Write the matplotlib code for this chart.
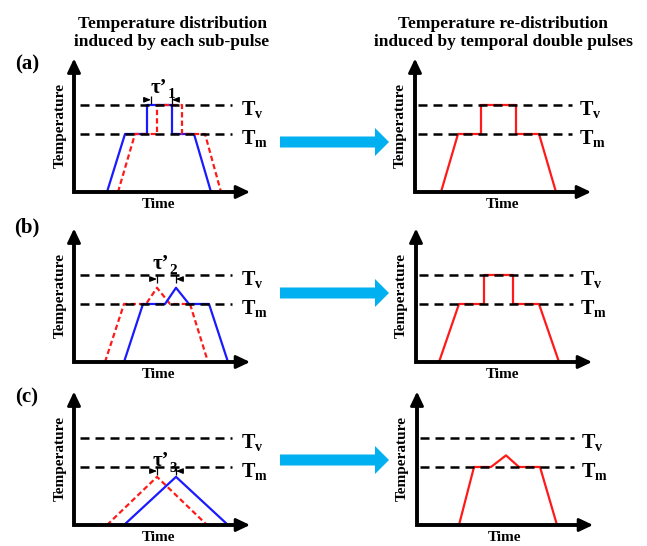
import matplotlib
matplotlib.use("Agg")
import matplotlib.pyplot as plt

plt.rcParams['font.family'] = ['Liberation Serif', 'DejaVu Serif']
plt.rcParams['mathtext.fontset'] = 'custom'
plt.rcParams['mathtext.rm'] = 'Liberation Serif:bold'
plt.rcParams['mathtext.it'] = 'Liberation Serif:italic:bold'
plt.rcParams['mathtext.bf'] = 'Liberation Serif:bold'

# ---------------- data (time in arbitrary units, temperature with Tm = 1) ----------------
TM = 1.0
TV = 1.5

# (a) sub-pulses and re-distribution
a_blue_t = [3.3, 5.1, 7.3, 7.3, 9.8, 9.8, 12.0, 13.7]
a_red_t = [4.4, 6.1, 8.3, 8.3, 10.8, 10.8, 13.1, 14.7]
a_sub_T = [0, TM, TM, TV, TV, TM, TM, 0]
a_res_t = [2.6, 4.3, 6.6, 6.6, 10.1, 10.1, 12.4, 14.1]
a_res_T = [0, TM, TM, TV, TV, TM, TM, 0]

# (b)
b_red_t = [3.1, 5.0, 7.2, 8.3, 9.6, 11.6, 13.4]
b_blue_t = [5.0, 6.9, 9.1, 10.2, 11.5, 13.5, 15.4]
b_sub_T = [0, TM, TM, 1.28, TM, TM, 0]
b_res_t = [2.3, 4.3, 6.8, 6.8, 9.7, 9.7, 12.3, 14.3]
b_res_T = [0, TM, TM, TV, TV, TM, TM, 0]

# (c)
c_red_t = [3.3, 8.3, 13.3]
c_blue_t = [5.0, 10.2, 15.4]
c_sub_T = [0, 0.83, 0]
c_res_t = [4.2, 5.7, 7.4, 8.9, 10.2, 12.3, 14.0]
c_res_T = [0, TM, TM, 1.2, TM, TM, 0]

# tau' markers: (left bar, right bar, height)
tau_marks = {'1': (7.7, 9.8, 1.59), '2': (8.3, 10.2, 1.43), '3': (8.3, 10.2, 0.93)}
tau_label_pos = {'1': (8.5, 1.80), '2': (8.7, 1.69), '3': (8.7, 1.10)}

titles = ["Temperature distribution\ninduced by each sub-pulse",
          "Temperature re-distribution\ninduced by temporal double pulses"]
panel_letters = ["(a)", "(b)", "(c)"]

# ---------------- layout ----------------
W, H = 647, 546
SX, SY = 10.0, 58.0
XMAX, YMAX = 17.6, 2.3
BLUE = '#1a1aff'
RED = '#ff1a1a'
ARROW_BLUE = '#00B0F0'

fig = plt.figure(figsize=(W / 100, H / 100), dpi=100)

head = dict(arrowstyle='-|>,head_length=0.42,head_width=0.2', lw=2.0, color='k',
            mutation_scale=20, shrinkA=0, shrinkB=0)


def make_axes(ox, oy):
    ax = fig.add_axes([ox / W, (H - oy) / H, (XMAX + 0.5) * SX / W, (YMAX + 0.2) * SY / H])
    ax.set_xlim(0, XMAX + 0.5)
    ax.set_ylim(0, YMAX + 0.2)
    ax.axis('off')
    # L-shaped axes
    ax.plot([0, 0, XMAX - 0.8], [YMAX - 0.14, 0, 0], color='k', lw=2.8,
            solid_joinstyle='miter', solid_capstyle='butt', clip_on=False, zorder=5)
    ax.annotate('', xy=(0, YMAX), xytext=(0, YMAX - 0.2), arrowprops=head, annotation_clip=False)
    ax.annotate('', xy=(XMAX, 0), xytext=(XMAX - 1.2, 0), arrowprops=head, annotation_clip=False)
    return ax


def decorate(ax, dx0, dx1, lab_x, temp_x, time_x):
    ax.hlines([TV, TM], dx0, dx1, colors='k', lw=1.8, linestyles=[(0, (3.6, 2.4))], zorder=4)
    ax.text(lab_x, TV - 0.08, r'$\mathrm{T}_{\mathrm{v}}$', fontsize=14.5, va='center', ha='left')
    ax.text(lab_x, TM - 0.08, r'$\mathrm{T}_{\mathrm{m}}$', fontsize=14.5, va='center', ha='left')
    ax.text(temp_x, YMAX / 2, 'Temperature', rotation=90, fontsize=11, fontweight='bold',
            ha='center', va='center')
    ax.text(time_x, -0.22, 'Time', fontsize=11, fontweight='bold', ha='center', va='center')


def tau(ax, key):
    xl, xr, y = tau_marks[key]
    small = dict(arrowstyle='-|>,head_length=0.5,head_width=0.2', lw=0.9,
                 color='k', mutation_scale=8, shrinkA=0, shrinkB=0)
    ax.annotate('', xy=(xl, y), xytext=(xl - 0.7, y), arrowprops=small)
    ax.annotate('', xy=(xr, y), xytext=(xr + 0.7, y), arrowprops=small)
    ax.vlines([xl, xr], y - 0.07, y + 0.07, colors='k', lw=0.9)
    lx, ly = tau_label_pos[key]
    ax.text(lx, ly, "\u03c4\u2019", fontsize=15, fontweight='bold', ha='center', va='center')
    ax.text(lx + 0.85, ly - 0.12, key, fontsize=11, fontweight='bold', ha='left', va='center')


dash_kw = dict(lw=1.6, ls=(0, (2.4, 1.4)), color=RED, zorder=2)
solid_blue = dict(lw=1.6, color=BLUE, zorder=2)
solid_red = dict(lw=1.6, color=RED, zorder=2)

left_origins = [(74, 192), (74, 362), (74, 525)]
right_origins = [(415, 192), (416, 362), (417, 525)]

left_series = [
    [(a_blue_t, a_sub_T, solid_blue), (a_red_t, a_sub_T, dash_kw)],
    [(b_red_t, b_sub_T, dash_kw), (b_blue_t, b_sub_T, solid_blue)],
    [(c_red_t, c_sub_T, dash_kw), (c_blue_t, c_sub_T, solid_blue)],
]
right_series = [(a_res_t, a_res_T), (b_res_t, b_res_T), (c_res_t, c_res_T)]

for i in range(3):
    ax = make_axes(*left_origins[i])
    for t, T, kw in left_series[i]:
        ax.plot(t, T, **kw)
    decorate(ax, 0.6, 15.8, 16.7, -1.4, 8.4)
    tau(ax, str(i + 1))

    ax2 = make_axes(*right_origins[i])
    t, T = right_series[i]
    ax2.plot(t, T, **solid_red)
    decorate(ax2, 0.3, 15.7, 16.4, -1.5, 8.7)

# overlay for big arrows and titles (figure pixel coordinates)
ov = fig.add_axes([0, 0, 1, 1])
ov.set_xlim(0, W)
ov.set_ylim(H, 0)
ov.axis('off')
for yc in [142, 293, 460]:
    ov.arrow(280, yc, 109, 0, width=11, head_width=28, head_length=14,
             length_includes_head=True, color=ARROW_BLUE, lw=0)

ov.text(172, 33, titles[0], fontsize=12.5, fontweight='bold', ha='center', va='center',
        linespacing=1.2)
ov.text(503, 33, titles[1], fontsize=12.5, fontweight='bold', ha='center', va='center',
        linespacing=1.2)
for lab, y in zip(panel_letters, [64, 227, 397]):
    ov.text(27, y, lab, fontsize=15, fontweight='bold', ha='center', va='center')

fig.savefig('out.png', dpi=100)
